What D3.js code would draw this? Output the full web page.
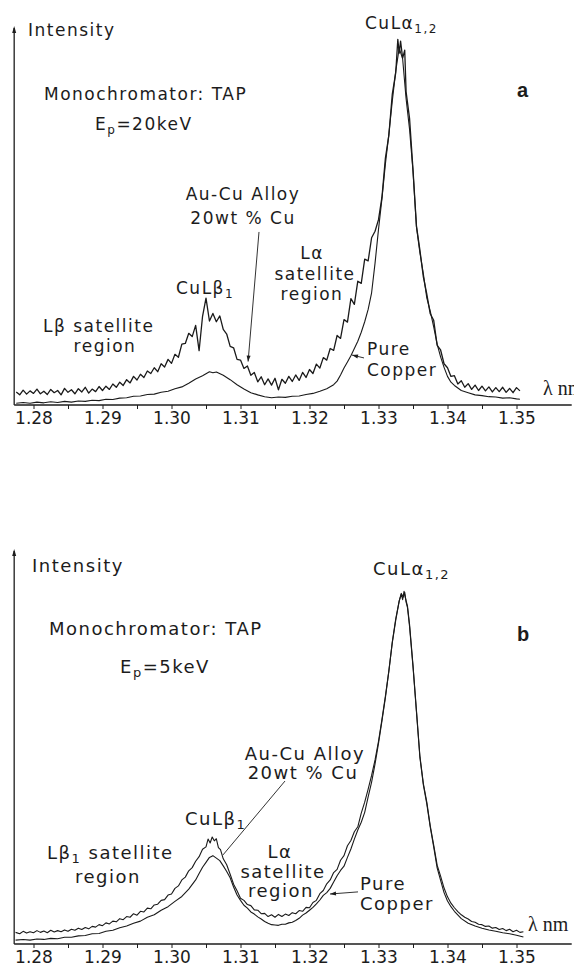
<!DOCTYPE html>
<html>
<head>
<meta charset="utf-8">
<script src="https://cdn.jsdelivr.net/npm/d3@7"></script>
<style>
  body { margin: 0; background: #fff; }
  svg text { font-family: "DejaVu Sans", sans-serif; fill: #1c1c1c; }
  .panel-id { font-family: "Liberation Sans", Arial, sans-serif; font-weight: bold; }
  .unit { font-family: "Liberation Serif", serif; }
  .axis path, .axis line { stroke: #1c1c1c; }
</style>
</head>
<body>
<svg id="chart" width="574" height="969"></svg>
<script>

// wavelength axis (nm): tick marks every 0.005, labels every 0.01
const wavelengthTicks = [1.28, 1.285, 1.29, 1.295, 1.30, 1.305, 1.31, 1.315, 1.32, 1.325, 1.33, 1.335, 1.34, 1.345, 1.35];
const tickLabels = ['1.28', '1.29', '1.30', '1.31', '1.32', '1.33', '1.34', '1.35'];

// panel a, Ep = 20 keV  [wavelength nm, intensity a.u.]
const alloyA = [[1.2775,3.6],[1.2780,2.8],[1.2785,4.1],[1.2790,3.0],[1.2795,3.9],[1.2800,3.2],[1.2805,4.4],[1.2810,3.1],[1.2815,3.8],[1.2820,2.9],
  [1.2825,4.3],[1.2830,3.4],[1.2835,4.0],[1.2840,2.8],[1.2845,4.6],[1.2850,3.5],[1.2855,4.2],[1.2860,3.1],[1.2865,4.5],[1.2870,3.6],
  [1.2875,4.9],[1.2880,3.3],[1.2885,4.4],[1.2890,3.7],[1.2895,5.1],[1.2900,4.0],[1.2905,5.2],[1.2910,4.3],[1.2915,5.8],[1.2920,4.9],
  [1.2925,6.3],[1.2930,5.4],[1.2935,7.0],[1.2940,6.1],[1.2945,7.9],[1.2950,6.9],[1.2955,8.5],[1.2960,7.6],[1.2965,9.4],[1.2970,8.7],
  [1.2975,10.3],[1.2980,9.2],[1.2985,11.4],[1.2990,10.5],[1.2995,12.6],[1.3000,11.5],[1.3005,14.0],[1.3010,13.2],[1.3015,16.8],[1.3020,17.0],
  [1.3025,19.8],[1.3030,18.9],[1.3035,22.0],[1.3040,15.0],[1.3045,24.5],[1.3050,29.5],[1.3055,23.2],[1.3060,25.3],[1.3065,23.0],[1.3070,24.6],
  [1.3075,20.9],[1.3080,19.6],[1.3085,16.2],[1.3090,15.8],[1.3095,12.6],[1.3100,12.4],[1.3105,10.1],[1.3110,10.8],[1.3115,8.2],[1.3120,9.0],
  [1.3125,6.4],[1.3130,7.8],[1.3135,5.6],[1.3140,7.2],[1.3145,5.5],[1.3150,7.4],[1.3155,4.2],[1.3160,7.1],[1.3165,6.0],[1.3170,7.9],
  [1.3175,6.5],[1.3180,8.3],[1.3185,6.8],[1.3190,9.0],[1.3195,7.6],[1.3200,9.8],[1.3205,8.7],[1.3210,11.3],[1.3215,10.2],[1.3220,13.1],
  [1.3225,12.4],[1.3230,15.6],[1.3235,15.1],[1.3240,19.2],[1.3245,18.4],[1.3250,23.6],[1.3255,22.9],[1.3260,29.4],[1.3265,27.8],[1.3270,34.2],
  [1.3275,33.6],[1.3280,40.3],[1.3285,39.8],[1.3290,46.2],[1.3295,48.0],[1.3300,51.2],[1.3305,57.4],[1.3310,68.2],[1.3315,74.5],[1.3320,85.9],
  [1.3325,91.8],[1.3328,101.0],[1.3330,97.2],[1.3332,100.5],[1.3335,95.8],[1.3338,98.0],[1.3340,86.5],[1.3345,79.2],[1.3350,65.0],[1.3355,49.5],
  [1.3360,42.8],[1.3365,35.4],[1.3370,30.6],[1.3375,25.2],[1.3380,23.4],[1.3385,16.5],[1.3390,15.2],[1.3395,11.4],[1.3400,10.3],[1.3405,7.9],
  [1.3410,8.1],[1.3415,5.8],[1.3420,6.7],[1.3425,4.9],[1.3430,5.9],[1.3435,4.3],[1.3440,5.5],[1.3445,4.0],[1.3450,5.2],[1.3455,3.9],
  [1.3460,5.0],[1.3465,3.6],[1.3470,4.8],[1.3475,3.7],[1.3480,4.9],[1.3485,3.5],[1.3490,4.6],[1.3495,3.4],[1.3500,4.8],[1.3505,3.9]];

const pureA = [[1.2775,0.5],[1.2785,0.7],[1.2795,0.5],[1.2805,0.8],[1.2815,0.6],[1.2825,0.9],[1.2835,0.7],[1.2845,1.0],[1.2855,0.8],[1.2865,1.1],
  [1.2875,1.0],[1.2885,1.3],[1.2895,1.2],[1.2905,1.6],[1.2915,1.5],[1.2925,1.9],[1.2935,2.0],[1.2945,2.4],[1.2955,2.5],[1.2965,2.9],
  [1.2975,3.0],[1.2985,3.5],[1.2995,3.8],[1.3005,4.5],[1.3015,5.0],[1.3025,6.0],[1.3035,7.2],[1.3045,8.1],[1.3055,9.2],[1.3060,8.9],
  [1.3065,9.1],[1.3075,8.2],[1.3085,7.0],[1.3095,5.6],[1.3105,4.4],[1.3115,3.4],[1.3125,2.8],[1.3135,2.3],[1.3145,2.0],[1.3155,2.2],
  [1.3165,2.1],[1.3175,2.4],[1.3185,2.5],[1.3195,2.9],[1.3205,3.2],[1.3215,3.8],[1.3225,4.5],[1.3235,5.6],[1.3240,6.6],[1.3245,8.3],
  [1.3250,10.2],[1.3255,11.9],[1.3260,13.6],[1.3265,15.6],[1.3270,17.6],[1.3275,20.1],[1.3280,23.0],[1.3285,26.4],[1.3290,31.0],[1.3295,39.2],
  [1.3300,48.5],[1.3305,57.0],[1.3310,66.6],[1.3315,74.8],[1.3320,84.0],[1.3325,92.3],[1.3330,98.6],[1.3335,95.6],[1.3340,84.6],[1.3345,76.2],
  [1.3350,64.6],[1.3355,49.2],[1.3360,42.1],[1.3365,36.2],[1.3370,29.6],[1.3375,25.9],[1.3380,21.6],[1.3385,16.8],[1.3390,13.3],[1.3395,10.4],
  [1.3400,7.9],[1.3405,6.3],[1.3410,5.4],[1.3420,4.0],[1.3430,3.4],[1.3440,2.8],[1.3450,2.6],[1.3460,2.3],[1.3470,2.2],[1.3480,1.9],
  [1.3490,2.0],[1.3500,1.7],[1.3505,1.6]];

// panel b, Ep = 5 keV
const alloyB = [[1.2774,3.3],[1.2780,2.9],[1.2785,3.6],[1.2790,3.1],[1.2795,3.5],[1.2800,3.2],[1.2805,3.8],[1.2810,3.3],[1.2815,3.7],[1.2820,3.2],
  [1.2825,3.9],[1.2830,3.4],[1.2835,3.8],[1.2840,3.5],[1.2845,4.0],[1.2850,3.6],[1.2855,4.2],[1.2860,3.9],[1.2865,4.5],[1.2870,4.1],
  [1.2875,4.7],[1.2880,4.3],[1.2885,5.0],[1.2890,4.8],[1.2895,5.5],[1.2900,5.2],[1.2905,6.0],[1.2910,5.7],[1.2915,6.5],[1.2920,6.3],
  [1.2925,7.2],[1.2930,6.9],[1.2935,7.8],[1.2940,7.6],[1.2945,8.6],[1.2950,8.2],[1.2955,9.3],[1.2960,9.1],[1.2965,10.2],[1.2970,10.0],
  [1.2975,11.1],[1.2980,11.3],[1.2985,12.4],[1.2990,12.6],[1.2995,13.9],[1.3000,14.2],[1.3005,15.8],[1.3010,16.5],[1.3015,18.2],[1.3020,19.0],
  [1.3025,20.8],[1.3030,21.7],[1.3035,23.5],[1.3040,24.8],[1.3045,26.9],[1.3050,27.6],[1.3053,29.8],[1.3056,28.7],[1.3059,30.4],[1.3062,29.3],
  [1.3065,29.9],[1.3068,27.4],[1.3071,26.8],[1.3075,24.2],[1.3080,22.5],[1.3085,19.8],[1.3090,17.0],[1.3095,15.1],[1.3100,13.0],[1.3105,12.4],
  [1.3110,11.2],[1.3115,10.9],[1.3120,9.7],[1.3125,9.6],[1.3130,8.6],[1.3135,8.7],[1.3140,7.8],[1.3145,8.3],[1.3150,7.6],[1.3155,8.4],
  [1.3160,7.8],[1.3165,8.5],[1.3170,8.1],[1.3175,8.9],[1.3180,8.6],[1.3185,9.5],[1.3190,9.3],[1.3195,10.4],[1.3200,10.3],[1.3205,11.8],
  [1.3210,12.4],[1.3215,14.3],[1.3220,15.2],[1.3225,17.1],[1.3230,18.2],[1.3235,20.3],[1.3240,21.2],[1.3245,23.8],[1.3250,25.1],[1.3255,27.9],
  [1.3260,29.4],[1.3265,31.9],[1.3270,33.3],[1.3275,37.2],[1.3280,40.3],[1.3285,44.0],[1.3290,47.9],[1.3295,52.3],[1.3300,57.6],[1.3305,63.8],
  [1.3310,70.4],[1.3315,77.6],[1.3320,85.8],[1.3325,92.4],[1.3330,97.5],[1.3333,99.4],[1.3335,97.8],[1.3337,100.2],[1.3339,98.3],[1.3342,96.0],[1.3345,90.8],
  [1.3350,79.2],[1.3355,66.3],[1.3360,53.4],[1.3365,45.6],[1.3370,40.3],[1.3375,33.6],[1.3380,28.1],[1.3385,22.4],[1.3390,19.3],[1.3395,15.9],
  [1.3400,13.4],[1.3405,11.6],[1.3410,10.3],[1.3415,9.2],[1.3420,8.3],[1.3425,7.6],[1.3430,7.1],[1.3435,6.4],[1.3440,6.2],[1.3445,5.6],
  [1.3450,5.5],[1.3455,5.0],[1.3460,5.1],[1.3465,4.5],[1.3470,4.7],[1.3475,4.1],[1.3480,4.4],[1.3485,3.8],[1.3490,4.2],[1.3495,3.5],
  [1.3500,3.9],[1.3505,3.3],[1.3510,3.5]];

const pureB = [[1.2774,1.1],[1.2785,1.3],[1.2795,1.1],[1.2805,1.4],[1.2815,1.3],[1.2825,1.6],[1.2835,1.5],[1.2845,1.9],[1.2855,1.9],[1.2865,2.3],
  [1.2875,2.4],[1.2885,2.9],[1.2895,3.0],[1.2905,3.6],[1.2915,3.9],[1.2925,4.6],[1.2935,5.1],[1.2945,5.9],[1.2955,6.5],[1.2965,7.6],
  [1.2975,8.3],[1.2985,9.6],[1.2995,10.6],[1.3005,12.1],[1.3015,13.5],[1.3025,15.6],[1.3035,18.2],[1.3040,20.0],[1.3045,21.8],[1.3050,23.2],
  [1.3055,24.6],[1.3060,25.1],[1.3065,24.4],[1.3070,23.7],[1.3075,22.2],[1.3080,20.6],[1.3085,18.8],[1.3090,16.2],[1.3095,13.9],[1.3100,12.4],
  [1.3105,11.0],[1.3110,10.2],[1.3115,9.1],[1.3120,8.5],[1.3125,7.7],[1.3130,7.1],[1.3135,6.4],[1.3140,5.9],[1.3145,5.5],[1.3150,5.4],
  [1.3155,5.3],[1.3160,5.6],[1.3165,5.6],[1.3170,6.0],[1.3175,6.2],[1.3180,6.7],[1.3185,7.3],[1.3190,8.2],[1.3195,8.8],[1.3200,9.6],
  [1.3205,10.4],[1.3210,11.4],[1.3215,12.5],[1.3220,13.8],[1.3225,14.6],[1.3230,15.8],[1.3235,17.6],[1.3240,19.4],[1.3245,20.9],[1.3250,22.1],
  [1.3255,24.6],[1.3260,27.0],[1.3265,29.8],[1.3270,32.4],[1.3275,34.6],[1.3280,37.4],[1.3285,41.8],[1.3290,46.0],[1.3295,51.2],[1.3300,57.0],
  [1.3305,63.4],[1.3310,70.0],[1.3315,77.5],[1.3320,85.6],[1.3325,92.0],[1.3330,97.4],[1.3333,99.6],[1.3336,98.6],[1.3338,99.9],[1.3340,97.1],[1.3342,95.6],
  [1.3345,90.2],[1.3350,78.8],[1.3355,66.0],[1.3360,53.0],[1.3365,45.2],[1.3370,39.8],[1.3375,33.2],[1.3380,27.6],[1.3385,21.6],[1.3390,18.1],
  [1.3395,14.6],[1.3400,12.2],[1.3405,10.6],[1.3410,9.3],[1.3420,7.2],[1.3430,5.9],[1.3440,5.1],[1.3450,4.5],[1.3460,4.0],[1.3470,3.6],
  [1.3480,3.2],[1.3490,2.9],[1.3500,2.5],[1.3510,2.0]];


class SpectrumPanel {

    constructor(_config, _data) {
        this.config = {
            parentElement: _config.parentElement,
            axisY: _config.axisY,          // pixel row of the wavelength axis
            peakY: _config.peakY,          // pixel row of intensity 100
            arrowY: _config.arrowY,        // top of intensity arrow
            fontSize: _config.fontSize,
            labels: _config.labels,
            leaders: _config.leaders
        }
        this.data = _data;
        this.initVis();
    }

    initVis() {
        let vis = this;

        vis.chart = d3.select(vis.config.parentElement).append('g');

        vis.xScale = d3.scaleLinear()
            .domain([1.28, 1.35])
            .range([33.5, 516.5]);

        vis.yScale = d3.scaleLinear()
            .domain([0, 100])
            .range([vis.config.axisY, vis.config.peakY]);

        vis.xAxis = d3.axisBottom(vis.xScale)
            .tickValues(wavelengthTicks)
            .tickSize(4)
            .tickSizeOuter(0)
            .tickPadding(3)
            .tickFormat((d, i) => i % 2 === 0 ? tickLabels[i / 2] : '');

        vis.line = d3.line()
            .x(d => vis.xScale(d[0]))
            .y(d => vis.yScale(d[1]));

        vis.renderVis();
    }

    renderVis() {
        let vis = this;
        const x0 = vis.xScale(1.2772), x1 = vis.xScale(1.358);

        // axes
        const ax = vis.chart.append('g')
            .attr('class', 'axis')
            .attr('transform', `translate(0,${vis.config.axisY})`)
            .call(vis.xAxis);
        ax.select('.domain').remove();
        ax.selectAll('text')
            .style('font-size', '17px')
            .style('font-family', '"DejaVu Sans", sans-serif')
            .attr('fill', '#1c1c1c');

        vis.chart.append('line')
            .attr('x1', x0).attr('x2', x1)
            .attr('y1', vis.config.axisY).attr('y2', vis.config.axisY)
            .attr('stroke', '#1c1c1c').attr('stroke-width', 1.3);

        vis.chart.append('line')
            .attr('x1', x0).attr('x2', x0)
            .attr('y1', vis.config.axisY).attr('y2', vis.config.arrowY + 2)
            .attr('stroke', '#1c1c1c').attr('stroke-width', 1.3);
        vis.chart.append('path')
            .attr('d', `M${x0},${vis.config.arrowY} l-2,7 l4,0 z`)
            .attr('fill', '#1c1c1c');

        // spectra
        vis.chart.selectAll('.spectrum')
            .data(vis.data)
            .join('path')
            .attr('class', 'spectrum')
            .attr('fill', 'none')
            .attr('stroke', '#1a1a1a')
            .attr('stroke-linejoin', 'round')
            .attr('stroke-width', d => d.width)
            .attr('d', d => vis.line(d.values));

        // leader lines
        vis.config.leaders.forEach(l => {
            const sx = vis.xScale(l.from[0]), sy = vis.yScale(l.from[1]);
            const tx = vis.xScale(l.to[0]), ty = vis.yScale(l.to[1]);
            vis.chart.append('line')
                .attr('x1', sx).attr('y1', sy).attr('x2', tx).attr('y2', ty)
                .attr('stroke', '#1c1c1c').attr('stroke-width', 0.9);
            if (l.head) {
                const a = Math.atan2(ty - sy, tx - sx);
                const h = 6, w = 2;
                const bx = tx - h * Math.cos(a), by = ty - h * Math.sin(a);
                vis.chart.append('path')
                    .attr('d', `M${tx},${ty} L${bx - w * Math.sin(a)},${by + w * Math.cos(a)} L${bx + w * Math.sin(a)},${by - w * Math.cos(a)} Z`)
                    .attr('fill', '#1c1c1c');
            }
        });

        // annotations
        const fs = vis.config.fontSize;
        vis.config.labels.forEach(lb => {
            const t = vis.chart.append('text')
                .attr('x', lb.x).attr('y', lb.y)
                .attr('text-anchor', lb.anchor || 'start')
                .attr('class', lb.cls || null)
                .style('font-size', (lb.size || fs) + 'px')
                .style('letter-spacing', lb.cls ? '0px' : '1.5px');
            let shifted = false;
            lb.parts.forEach(p => {
                const ts = t.append('tspan').text(p[0]);
                if (p[1] === 'sub') {
                    ts.style('font-size', Math.round(fs * 0.72) + 'px').attr('dy', 4);
                    shifted = true;
                } else if (shifted) {
                    ts.attr('dy', -4);
                    shifted = false;
                }
            });
        });
    }
}

new SpectrumPanel({
    parentElement: '#chart',
    axisY: 405, peakY: 43, arrowY: 26, fontSize: 17,
    labels: [
        { x: 28, y: 36, parts: [['Intensity']] },
        { x: 44, y: 100, parts: [['Monochromator: TAP']] },
        { x: 95, y: 130, parts: [['E'], ['p', 'sub'], ['=20keV']] },
        { x: 365, y: 29, parts: [['CuLα'], ['1,2', 'sub']] },
        { x: 517, y: 97, cls: 'panel-id', size: 20, parts: [['a']] },
        { x: 243, y: 200, anchor: 'middle', parts: [['Au-Cu Alloy']] },
        { x: 243, y: 224, anchor: 'middle', parts: [['20wt % Cu']] },
        { x: 312, y: 259, anchor: 'middle', parts: [['Lα']] },
        { x: 315, y: 280, anchor: 'middle', parts: [['satellite']] },
        { x: 312, y: 300, anchor: 'middle', parts: [['region']] },
        { x: 176, y: 294, parts: [['CuLβ'], ['1', 'sub']] },
        { x: 43, y: 332, parts: [['Lβ satellite']] },
        { x: 105, y: 352, anchor: 'middle', parts: [['region']] },
        { x: 367, y: 355, parts: [['Pure']] },
        { x: 367, y: 376, parts: [['Copper']] },
        { x: 543, y: 395, cls: 'unit', size: 20, parts: [['λ nm']] }
    ],
    leaders: [
        { from: [1.31268, 47.8], to: [1.3111, 12.0], head: true },
        { from: [1.32790, 13.0], to: [1.32616, 13.8], head: true }
    ]
}, [
    { name: 'Au-Cu alloy', width: 1.3, values: alloyA },
    { name: 'Pure copper', width: 1.1, values: pureA }
]);

new SpectrumPanel({
    parentElement: '#chart',
    axisY: 944, peakY: 592, arrowY: 549, fontSize: 18,
    labels: [
        { x: 32, y: 572, parts: [['Intensity']] },
        { x: 49, y: 635, parts: [['Monochromator: TAP']] },
        { x: 120, y: 673, parts: [['E'], ['p', 'sub'], ['=5keV']] },
        { x: 373, y: 575, parts: [['CuLα'], ['1,2', 'sub']] },
        { x: 517, y: 641, cls: 'panel-id', size: 20, parts: [['b']] },
        { x: 305, y: 760, anchor: 'middle', parts: [['Au-Cu Alloy']] },
        { x: 303, y: 779, anchor: 'middle', parts: [['20wt % Cu']] },
        { x: 185, y: 825, parts: [['CuLβ'], ['1', 'sub']] },
        { x: 47, y: 859, parts: [['Lβ'], ['1', 'sub'], [' satellite']] },
        { x: 108, y: 883, anchor: 'middle', parts: [['region']] },
        { x: 280, y: 858, anchor: 'middle', parts: [['Lα']] },
        { x: 283, y: 878, anchor: 'middle', parts: [['satellite']] },
        { x: 281, y: 897, anchor: 'middle', parts: [['region']] },
        { x: 360, y: 890, parts: [['Pure']] },
        { x: 360, y: 910, parts: [['Copper']] },
        { x: 528, y: 931, cls: 'unit', size: 20, parts: [['λ nm']] }
    ],
    leaders: [
        { from: [1.31645, 46.3], to: [1.30746, 25.3], head: false },
        { from: [1.32703, 14.8], to: [1.32297, 14.2], head: true }
    ]
}, [
    { name: 'Au-Cu alloy', width: 1.1, values: alloyB },
    { name: 'Pure copper', width: 1.1, values: pureB }
]);

</script>
</body>
</html>
